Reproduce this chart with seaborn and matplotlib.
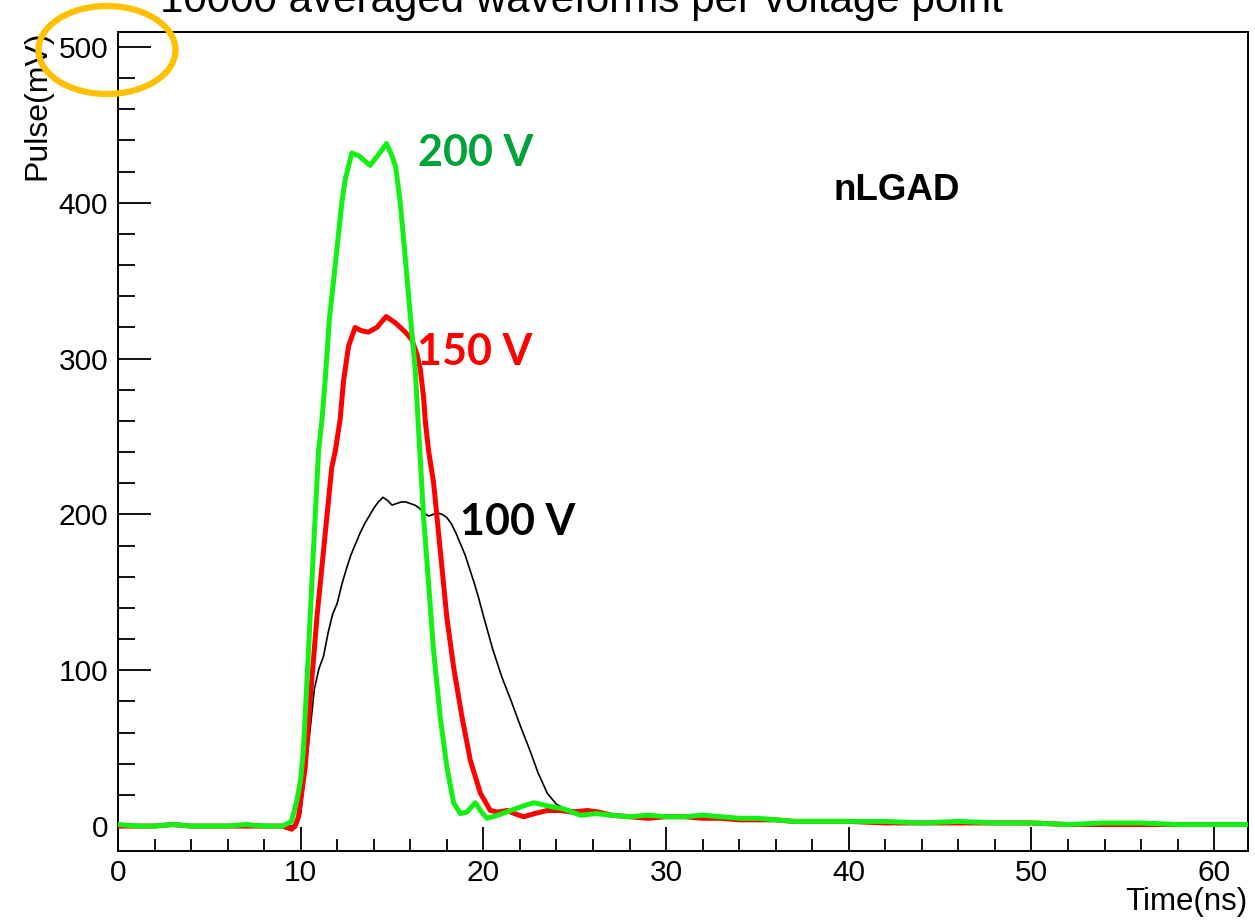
import numpy as np
import pandas as pd
import matplotlib
matplotlib.use("Agg")
import matplotlib.pyplot as plt
import seaborn as sns
from matplotlib.patches import Ellipse
from matplotlib.ticker import MultipleLocator

# ---------------- data ----------------
time_100 = [0, 2, 4, 6, 8, 9, 9.5, 9.8, 10.0, 10.25, 10.5, 10.75, 11.0, 11.25, 11.5, 11.75,
            12.0, 12.25, 12.5, 12.75, 13.0, 13.25, 13.5, 13.75, 14.0, 14.25, 14.5, 14.75,
            15.0, 15.25, 15.5, 15.75, 16.0, 16.25, 16.5, 16.75, 17.0, 17.25, 17.5, 17.75,
            18.0, 18.25, 18.5, 18.75, 19.0, 19.25, 19.5, 19.75, 20.0, 20.5, 21.0, 21.5,
            22.0, 22.5, 23.0, 23.5, 24.0, 24.5, 25.0, 25.5, 26, 27, 28, 29, 30, 32, 34,
            36, 38, 40, 45, 50, 55, 60, 62]
pulse_100 = [0, 0, 0, 0, 0, 0, 0, 2, 8, 35, 60, 88, 101, 109, 124, 136,
             143, 155, 165, 174, 181, 188, 194, 199, 204, 208, 211, 209,
             206, 207, 208, 208, 207, 206, 204, 201, 199, 200, 201, 200,
             198, 194, 188, 181, 174, 165, 156, 146, 135, 114, 96, 81,
             65, 50, 34, 21, 14, 11, 10, 8, 8, 7, 6, 6, 6, 6, 5,
             4, 3, 3, 2, 2, 1, 1, 1]

time_150 = [0, 1, 2, 3, 4, 5, 6, 7, 8, 9, 9.5, 9.7, 9.88, 10.25, 10.52, 10.89, 11.16, 11.43,
            11.7, 11.9, 12.16, 12.35, 12.62, 12.98, 13.3, 13.7, 14.17, 14.68, 15.18, 15.73,
            16.09, 16.36, 16.55, 16.73, 16.82, 17.0, 17.28, 17.64, 18.0, 18.37, 18.83, 19.29,
            19.84, 20.38, 20.8, 21.3, 21.7, 22.2, 22.8, 23.5, 24.2, 24.8, 25.7, 26.3, 27, 28,
            29, 30, 31, 32, 33, 34, 35, 36, 37, 38, 40, 42, 44, 46, 48, 50, 52, 54, 56, 58,
            60, 62]
pulse_150 = [0, 0, 0, 1, 0, 0, 0, 0, 0, 0, -2, 0, 6, 38, 81, 134, 166, 198,
             230, 241, 261, 286, 308, 320, 318, 317, 320, 327, 323, 317,
             312, 303, 293, 275, 260, 241, 220, 177, 134, 102, 70, 42,
             21, 10, 9, 10, 8, 6, 8, 10, 10, 9, 10, 9, 7, 6,
             5, 6, 6, 5, 5, 4, 4, 4, 3, 3, 3, 2, 2, 2, 2, 2, 1, 1, 1, 1,
             1, 1]

time_200 = [0, 1, 2, 3, 4, 5, 6, 7, 8, 9, 9.5, 9.8, 10.0, 10.15, 10.43, 10.7, 10.98, 11.16,
            11.34, 11.57, 11.8, 12.0, 12.25, 12.44, 12.8, 13.2, 13.8, 14.2, 14.7, 15.0,
            15.2, 15.45, 15.7, 15.96, 16.27, 16.45, 16.73, 17.0, 17.27, 17.64, 18.0, 18.37,
            18.74, 19.1, 19.56, 19.9, 20.2, 20.8, 21.5, 22.2, 22.76, 23.5, 24.4, 25.3, 26.2,
            27, 28, 29, 30, 31, 32, 33, 34, 35, 36, 37, 38, 39, 40, 42, 44, 46, 48, 50, 52,
            54, 56, 58, 60, 62]
pulse_200 = [1, 0, 0, 1, 0, 0, 0, 1, 0, 0, 3, 17, 30, 49, 113, 177, 241, 260,
             286, 325, 350, 372, 400, 415, 432, 430, 424, 430, 438, 430,
             423, 400, 368, 333, 293, 255, 198, 156, 113, 70, 38, 15,
             8, 9, 15, 9, 5, 7, 10, 13, 15, 13, 11, 7, 8,
             7, 6, 7, 6, 6, 7, 6, 5, 5, 4, 3, 3, 3, 3, 3, 2, 3, 2, 2, 1,
             2, 2, 1, 1, 1]

x_ticks = [0, 10, 20, 30, 40, 50, 60]
y_ticks = [0, 100, 200, 300, 400, 500]

# ---------------- style ----------------
sns.set_style("ticks")
plt.rcParams["font.family"] = ["Liberation Sans", "DejaVu Sans"]
plt.rcParams["text.color"] = "black"
plt.rcParams["axes.labelcolor"] = "black"

fig = plt.figure(figsize=(12.55, 9.23), dpi=100)
ax = fig.add_axes([0.0940, 0.0780, 0.9004, 0.8873])

sns.lineplot(x=time_100, y=pulse_100, ax=ax, color="black", linewidth=1.2,
             estimator=None, sort=False, zorder=2)
sns.lineplot(x=time_150, y=pulse_150, ax=ax, color="#FF0000", linewidth=3.6,
             estimator=None, sort=False, zorder=3)
sns.lineplot(x=time_200, y=pulse_200, ax=ax, color="#14F014", linewidth=3.6,
             estimator=None, sort=False, zorder=4)

ax.set_xlim(0, 61.85)
ax.set_ylim(-16, 509.6)
ax.set_xticks(x_ticks)
ax.set_yticks(y_ticks)
ax.xaxis.set_minor_locator(MultipleLocator(2))
ax.yaxis.set_minor_locator(MultipleLocator(20))

for s in ax.spines.values():
    s.set_linewidth(1.4)
    s.set_color("black")

ax.tick_params(axis="both", which="both", direction="in", top=False, right=False,
               colors="black", labelsize=21.5, width=1.3)
ax.tick_params(axis="y", which="major", length=24, pad=7)
ax.tick_params(axis="y", which="minor", length=12)
ax.tick_params(axis="x", which="major", length=17, pad=6)
ax.tick_params(axis="x", which="minor", length=9)

ax.set_xlabel("Time(ns)", fontsize=22.5, ha="right", va="top")
ax.xaxis.set_label_coords(1.0, -0.044)
ax.set_ylabel("Pulse(mV)", fontsize=23, rotation=90, rotation_mode="default",
              ha="center", va="top")
ax.yaxis.set_label_coords(-0.0717, 1.0024)

# annotations
ax.text(19.6, 432, "200 V", color="#00A33A", fontsize=31, fontweight="bold",
        family=["Lato", "DejaVu Sans"], ha="center", va="center")
ax.text(19.55, 304, "150 V", color="#FF0000", fontsize=31, fontweight="bold",
        family=["Lato", "DejaVu Sans"], ha="center", va="center")
ax.text(21.9, 195, "100 V", color="black", fontsize=31, fontweight="bold",
        family=["Lato", "DejaVu Sans"], ha="center", va="center")
ax.text(42.6, 408, "nLGAD", color="black", fontsize=26.5, fontweight="bold",
        ha="center", va="center")

fig.text(160 / 1255, 1 - 12 / 923, "10000 averaged waveforms per voltage point",
         fontsize=30.3, ha="left", va="baseline", color="black")

ell = Ellipse((107 / 1255, 1 - 50 / 923), 137 / 1255, 88 / 923,
              transform=fig.transFigure, fill=False, edgecolor="#FFC000",
              linewidth=4.5, zorder=10)
fig.add_artist(ell)

fig.savefig("out.png", dpi=100)
